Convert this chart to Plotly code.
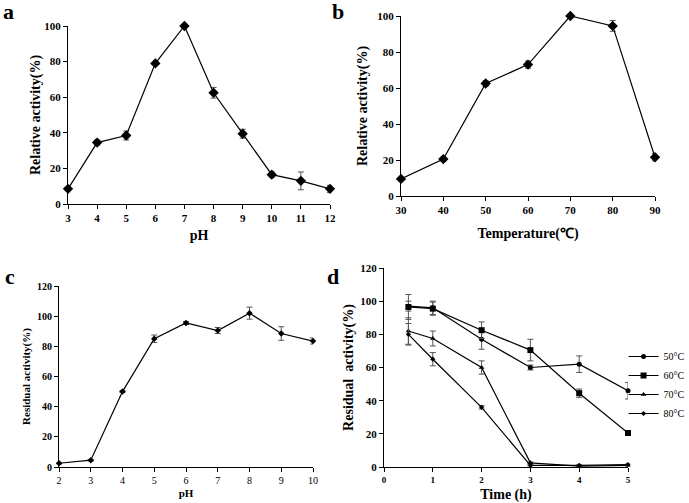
import plotly.graph_objects as go

W, H = 689, 503

# Panel a: pH optimum
a_ph = [3, 4, 5, 6, 7, 8, 9, 10, 11, 12]
a_act = [8.5, 34.5, 38.5, 79, 100, 62.5, 39.5, 16.5, 13, 8.5]
a_err = [1, 1.5, 2.5, 1, 0.5, 3, 2.5, 1.5, 5, 2]

# Panel b: temperature optimum
b_temp = [30, 40, 50, 60, 70, 80, 90]
b_act = [9.5, 20.5, 62.5, 73, 100, 94.5, 21.5]
b_err = [0.5, 1, 1.5, 2, 0, 3, 2]

# Panel c: pH stability
c_ph = [2, 3, 4, 5, 6, 7, 8, 9, 10]
c_act = [2.5, 4.5, 50, 85, 95.5, 90.5, 102, 88.5, 83.5]
c_err = [0.5, 0.5, 0.5, 2.5, 1, 2, 4, 4.5, 2]

# Panel d: thermal stability
d_time = [0.5, 1, 2, 3, 4, 5]
d_names = ["50°C", "60°C", "70°C", "80°C"]
d_50 = [97, 96, 77, 60, 62, 46]
d_50_err = [3, 4, 6, 1.5, 5, 5]
d_60 = [96.5, 95.5, 82.5, 70.5, 44.5, 20.5]
d_60_err = [7.5, 4, 5, 6.5, 2.5, 1.5]
d_70 = [82, 77.5, 60, 2.5, 0.5, 1]
d_70_err = [8, 4.5, 4, 0.5, 0.3, 0.3]
d_80 = [80, 65, 36, 1, 1, 1.5]
d_80_err = [6.5, 4, 1, 0.3, 0.3, 0.3]

FONT = "Liberation Serif"
ERRC = "#555555"

fig = go.Figure()


def dom_x(x0, x1):
    return [x0 / W, x1 / W]


def dom_y(top, bottom):
    return [1 - bottom / H, 1 - top / H]


def add_series(x, y, err, xa, ya, symbol, size, name=None, showlegend=False):
    fig.add_trace(go.Scatter(
        x=x, y=y, mode="lines+markers", name=name, showlegend=showlegend,
        xaxis=xa, yaxis=ya,
        line=dict(color="black", width=1.2),
        marker=dict(symbol=symbol, size=size, color="black"),
        error_y=dict(type="data", array=err, visible=True, color=ERRC,
                     thickness=1, width=3),
        cliponaxis=False,
    ))


add_series(a_ph, a_act, a_err, "x", "y", "diamond", 8)
add_series(b_temp, b_act, b_err, "x2", "y2", "diamond", 8)
add_series(c_ph, c_act, c_err, "x3", "y3", "diamond", 5)
add_series(d_time, d_50, d_50_err, "x4", "y4", "circle", 5, d_names[0], True)
add_series(d_time, d_60, d_60_err, "x4", "y4", "square", 6, d_names[1], True)
add_series(d_time, d_70, d_70_err, "x4", "y4", "triangle-up", 5, d_names[2], True)
add_series(d_time, d_80, d_80_err, "x4", "y4", "diamond", 4, d_names[3], True)

axis_common = dict(
    showline=True, linecolor="black", linewidth=1, mirror=False,
    ticks="outside", ticklen=4, tickcolor="black", showgrid=False,
    zeroline=False, automargin=False,
)
tickf = dict(family=FONT, size=11, color="black", weight="bold")
titlef = dict(family=FONT, size=14, color="black", weight="bold")

layout = dict(
    width=W, height=H, margin=dict(l=0, r=0, t=0, b=0, autoexpand=False),
    paper_bgcolor="white", plot_bgcolor="white",
    font=dict(family=FONT, color="black"),
    xaxis=dict(axis_common, domain=dom_x(68, 330), range=[3, 12], dtick=1,
               tickfont=tickf, title=dict(text="pH", font=titlef, standoff=6),
               anchor="y"),
    yaxis=dict(axis_common, domain=dom_y(26, 204), range=[0, 100], dtick=20,
               tickfont=tickf,
               title=dict(text="Relative activity(%)", font=titlef, standoff=0),
               anchor="x"),
    xaxis2=dict(axis_common, domain=dom_x(401, 655), range=[30, 90], dtick=10,
                tickfont=tickf,
                title=dict(text="Temperature(℃)", font=titlef, standoff=12),
                anchor="y2"),
    yaxis2=dict(axis_common, domain=dom_y(16, 196), range=[0, 100], dtick=20,
                tickfont=tickf,
                title=dict(text="Relative activity(%)", font=titlef, standoff=6),
                anchor="x2"),
    xaxis3=dict(axis_common, domain=dom_x(59, 313), range=[2, 10], dtick=1,
                tickfont=dict(family=FONT, size=10, color="black"),
                title=dict(text="pH", font=dict(family=FONT, size=11, color="black", weight="bold"), standoff=4),
                anchor="y3"),
    yaxis3=dict(axis_common, domain=dom_y(286, 467), range=[0, 120], dtick=20,
                tickfont=dict(family=FONT, size=10, color="black", weight="bold"),
                title=dict(text="Residual activity(%)", font=dict(family=FONT, size=11, color="black", weight="bold"), standoff=4),
                anchor="x3"),
    xaxis4=dict(axis_common, domain=dom_x(384, 628), range=[0, 5], dtick=1,
                tickfont=dict(family=FONT, size=9, color="black", weight="bold"),
                title=dict(text="Time (h)", font=titlef, standoff=6),
                anchor="y4"),
    yaxis4=dict(axis_common, domain=dom_y(268, 467), range=[0, 120], dtick=20,
                tickfont=tickf,
                title=dict(text="Residual  activity(%)", font=titlef, standoff=3),
                anchor="x4"),
    legend=dict(x=0.905, y=1 - 342 / H, xanchor="left", yanchor="top",
                font=dict(family=FONT, size=10, color="black"),
                itemwidth=30, tracegroupgap=0, bgcolor="rgba(0,0,0,0)"),
    showlegend=True,
)
fig.update_layout(**layout)

labels = [("a", 8, 12), ("b", 338, 12), ("c", 10, 276), ("d", 333, 276)]
for t, px, py in labels:
    fig.add_annotation(text=t, x=px / W, y=1 - py / H, xref="paper", yref="paper",
                       showarrow=False, xanchor="center", yanchor="middle",
                       font=dict(family=FONT, size=22, color="black", weight="bold"))

fig.write_html(
    "out.html",
    config={"displayModeBar": False},
    post_script="document.body.style.margin='0px';document.body.style.overflow='hidden';",
)
